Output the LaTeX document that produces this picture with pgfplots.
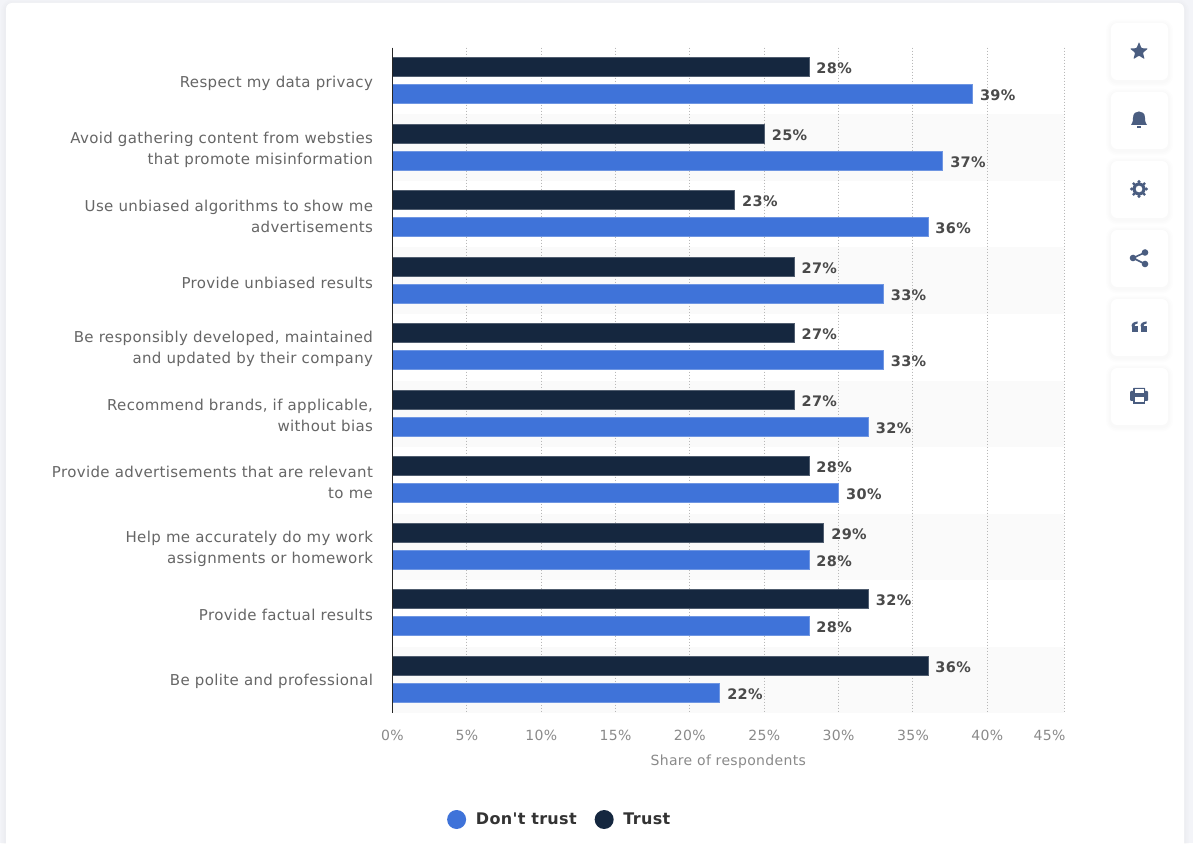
\documentclass[border=0pt]{standalone}
\usepackage{pgfplots}
\pgfplotsset{compat=1.18}
\usepackage{fontspec}
\setmainfont{DejaVu Sans}[LetterSpace=2.4]
\newfontfamily\legfont{DejaVu Sans}[LetterSpace=2]
\usetikzlibrary{shapes.geometric}
\definecolor{trust}{HTML}{15273F}
\definecolor{donttrust}{HTML}{3F73D9}
\definecolor{icon}{HTML}{4A5D80}
\definecolor{bgpage}{HTML}{F3F4F8}
\definecolor{stripe}{HTML}{FAFAFA}
\definecolor{cattext}{HTML}{666666}
\definecolor{ticktext}{HTML}{8A8A8A}
\definecolor{valtext}{HTML}{4A4A4A}
\definecolor{legtext}{HTML}{333333}
\newcommand{\softbox}[4]{% x0,ytop,x1,ybot
  \foreach \w in {10,7,4}{
    \draw[line width=\w pt,black,opacity=0.008,rounded corners=6pt] (#1,843-#4-1.5) rectangle (#3,843-#2-1.5);
  }
  \fill[white,rounded corners=6pt] (#1,843-#4) rectangle (#3,843-#2);
}
\begin{document}
\begin{tikzpicture}[x=1pt,y=1pt]
\useasboundingbox (0,0) rectangle (1193,843);
\fill[bgpage] (0,0) rectangle (1193,843);
\begin{scope}
\clip (0,0) rectangle (1193,843);
\softbox{6}{3}{1184}{860}
\end{scope}
% stripes
\foreach \t in {114.5,247.5,381,514,647}{
  \fill[stripe] (392.5,843-\t) rectangle (1064,843-\t-66.5);
}
% toolbar
\foreach \t [evaluate=\t as \b using \t+57] in {23,92,161,230,299,368}{
  \softbox{1111}{\t}{1168}{\b}
}
% star
\node[star,star points=5,star point ratio=2.3,fill=icon,inner sep=0pt,minimum size=19pt,rounded corners=0.8pt] at (1139,843-51.5) {};
% bell
\fill[icon] (1131,843-125) .. controls (1133,843-122) and (1133,843-120) .. (1133,843-118) .. controls (1133,843-113) and (1136,843-111.5) .. (1139,843-111.5) .. controls (1142,843-111.5) and (1145,843-113) .. (1145,843-118) .. controls (1145,843-120) and (1145,843-122) .. (1147,843-125) -- cycle;
\fill[icon] (1137,843-126.5) rectangle (1141,843-128.5);
% gear
\draw[icon,line width=3.2pt] (1139,843-189) circle (5.2pt);
\foreach \a in {0,45,...,315}{
  \fill[icon] (1139,843-189) ++(\a:7.4) circle (1.7pt);
}
% share
\draw[icon,line width=1.6pt] (1145,843-252.5) -- (1133,843-258) -- (1145,843-264);
\fill[icon] (1145,843-252.5) circle (3.3pt) (1133,843-258) circle (3.3pt) (1145,843-264) circle (3.3pt);
% quote
\foreach \dx in {1131.5,1140.5}{
  \fill[icon] (\dx,843-332) rectangle (\dx+6.5,843-326.5);
  \fill[icon] (\dx,843-326.5) .. controls (\dx,843-323) and (\dx+2,843-322) .. (\dx+6,843-321.5) -- (\dx+6,843-323.5) .. controls (\dx+3.5,843-323.5) and (\dx+3,843-325) .. (\dx+3,843-326.5) -- cycle;
}
% printer
\fill[icon,rounded corners=1pt] (1130,843-401) rectangle (1148,843-391);
\fill[icon,rounded corners=0.5pt] (1133,843-393) rectangle (1145,843-388);
\fill[white] (1134.5,843-393) rectangle (1143.5,843-389.5);
\fill[icon] (1133,843-404) rectangle (1145,843-396);
\fill[white] (1134.5,843-402.5) rectangle (1143.5,843-397.5);
\begin{axis}[
  at={(392.5pt,130.5pt)},anchor=south west,
  scale only axis,width=671.5pt,height=665pt,
  xmin=0,xmax=45.16,ymin=-0.5,ymax=9.5,y dir=reverse,
  axis lines*=left,
  axis line style={draw=none},
  xtick={0,5,...,40},
  xticklabel={\pgfmathprintnumber{\tick}\%},
  extra x ticks={45.16},
  extra x tick labels={45\%},
  extra x tick style={xticklabel style={xshift=-14.5pt},grid=major},
  xticklabel style={font=\fontsize{14}{16}\selectfont,text=ticktext,yshift=-14pt},
  /pgf/number format/assume math mode=true,
  major tick length=0pt,
  xmajorgrids,
  grid style={draw=black!28,line width=1pt,dash pattern=on 1pt off 2pt},
  ytick={0,...,9},
  yticklabels={
    Respect my data privacy,
    {Avoid gathering content from websties\\that promote misinformation},
    {Use unbiased algorithms to show me\\advertisements},
    Provide unbiased results,
    {Be responsibly developed, maintained\\and updated by their company},
    {Recommend brands, if applicable,\\without bias},
    {Provide advertisements that are relevant\\to me},
    {Help me accurately do my work\\assignments or homework},
    Provide factual results,
    Be polite and professional},
  yticklabel style={font=\fontsize{15}{21}\selectfont,text=cattext,align=right,xshift=-16pt,yshift=-2.5pt},
  xlabel={Share of respondents},
  xlabel style={font=\fontsize{14}{16}\selectfont,text=ticktext,yshift=-7pt},
  xbar,
  bar width=19pt,
  nodes near coords={\pgfmathprintnumber{\pgfplotspointmeta}\%},
  point meta=x,
  every node near coord/.append style={font=\fontsize{14.5}{17}\selectfont\bfseries,text=valtext,anchor=west,xshift=4pt,yshift=-1pt},
  clip=false,
  legend style={at={(0.5,0)},anchor=center,yshift=-107pt,xshift=-168.5pt,draw=none,fill=none,
    font=\legfont\fontsize{16}{20}\selectfont\bfseries,text=legtext,legend columns=2,
    /tikz/every even column/.append style={column sep=16pt}},
  legend image code/.code={\fill[#1,draw=none] (0pt,0pt) circle (9.5pt);\path (17pt,0pt);},
  legend cell align=left,
]
\addplot[draw=donttrust!75!white,line width=0.6pt,fill=donttrust,bar shift=-13.5pt] coordinates {
(39,0) (37,1) (36,2) (33,3) (33,4) (32,5) (30,6) (28,7) (28,8) (22,9)};
\addplot[draw=trust!75!white,line width=0.6pt,fill=trust,bar shift=13.5pt] coordinates {
(28,0) (25,1) (23,2) (27,3) (27,4) (27,5) (28,6) (29,7) (32,8) (36,9)};
\legend{Don't trust,Trust}
\draw[black!85!white,line width=1.4pt] (axis cs:0,-0.5) -- (axis cs:0,9.5);
\end{axis}
\end{tikzpicture}
\end{document}
